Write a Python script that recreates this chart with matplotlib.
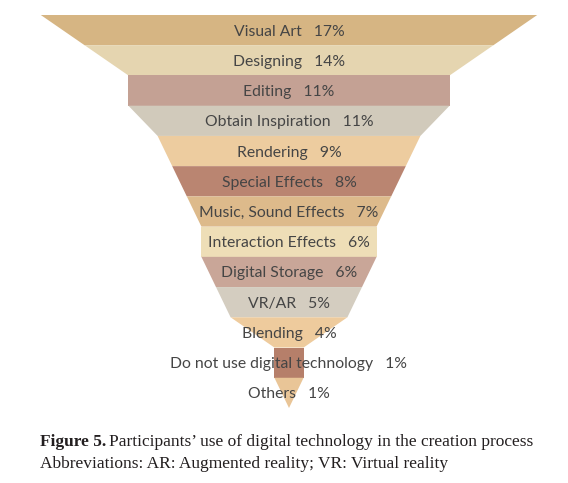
import matplotlib
matplotlib.use("Agg")
import matplotlib.pyplot as plt

# funnel data (top to bottom)
labels = ["Visual Art", "Designing", "Editing", "Obtain Inspiration", "Rendering",
          "Special Effects", "Music, Sound Effects", "Interaction Effects",
          "Digital Storage", "VR/AR", "Blending", "Do not use digital technology",
          "Others"]
shares = [17, 14, 11, 11, 9, 8, 7, 6, 6, 5, 4, 1, 1]
colors = ["#D6B583", "#E5D5B0", "#C4A194", "#D1CABB", "#EDCC9F", "#BA8571",
          "#DDBA8B", "#EEDEB7", "#C9A698", "#D4CDC0", "#EECB9D", "#B67F6A",
          "#E9C597"]

fig = plt.figure(figsize=(5.68, 4.83), dpi=100)
ax = fig.add_axes([0, 75 / 483, 1, 393 / 483])

n = len(shares)
for i in range(n):
    top = shares[i] / 2
    bot = shares[i + 1] / 2 if i + 1 < n else 0
    ax.fill([-top, top, bot, -bot], [i, i, i + 1, i + 1],
            color=colors[i], linewidth=0)
    ax.text(0, i + 0.55, "%s   %d%%" % (labels[i], shares[i]),
            ha="center", va="center", fontsize=11.3, family="Lato",
            color="#454545")

ax.set_xlim(-289 / 29.2, 279 / 29.2)
ax.set_ylim(n, 0)
ax.axis("off")

# caption
r = fig.canvas.get_renderer()
t1 = fig.text(40 / 568, 1 - 442 / 483, "Figure 5.", fontsize=12.5,
              family="Liberation Serif", weight="bold", va="center",
              color="#231f20")
w = t1.get_window_extent(r).width
fig.text((40 + w + 3) / 568, 1 - 442 / 483,
         "Participants\u2019 use of digital technology in the creation process",
         fontsize=12.5, family="Liberation Serif", va="center", color="#231f20")
fig.text(40 / 568, 1 - 464 / 483,
         "Abbreviations: AR: Augmented reality; VR: Virtual reality",
         fontsize=12.5, family="Liberation Serif", va="center", color="#231f20")

fig.savefig("out.png", dpi=100)
